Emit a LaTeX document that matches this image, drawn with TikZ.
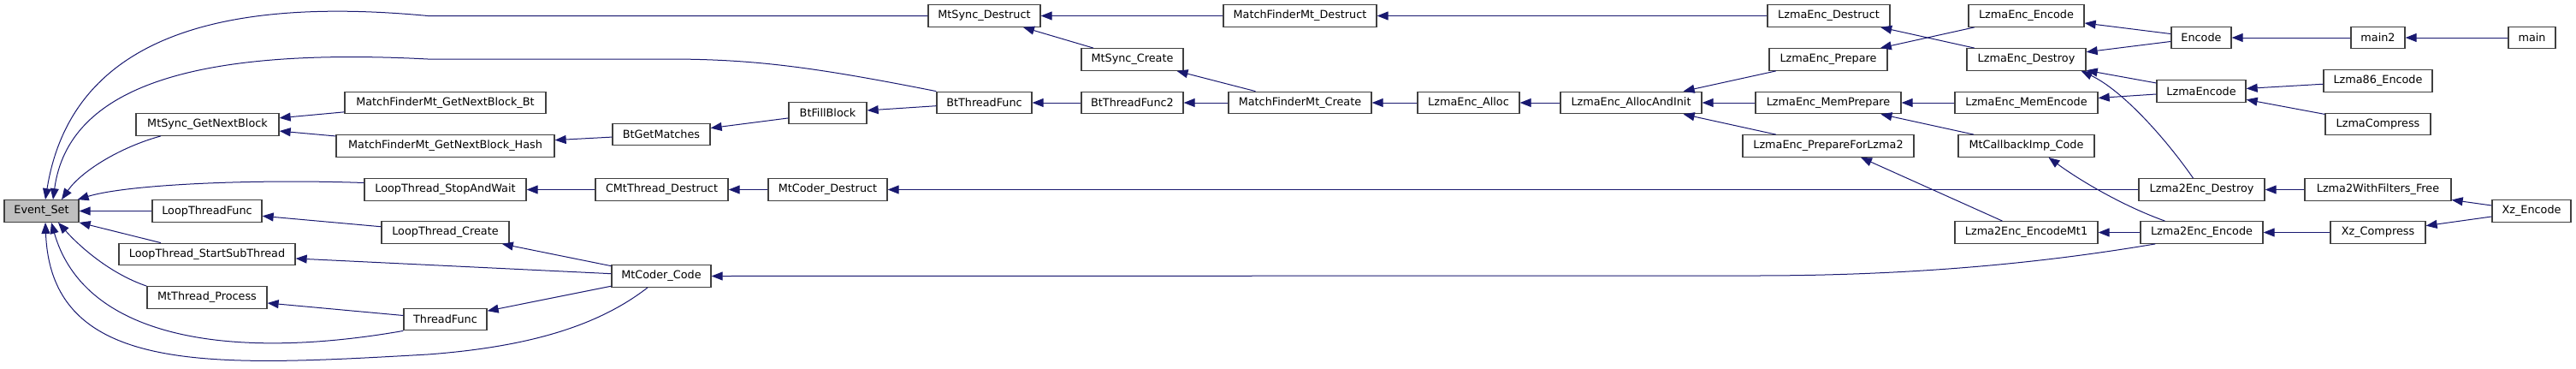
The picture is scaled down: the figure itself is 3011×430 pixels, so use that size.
\documentclass[tikz,border=0pt]{standalone}
\usepackage{fontspec}
\setmainfont{DejaVu Sans}
\usepackage{tikz}
\usetikzlibrary{
    arrows.meta, positioning, calc
}
\definecolor{edgeBlue}{HTML}{191970}
\definecolor{boxLine}{HTML}{404040}
\definecolor{boxGrey}{HTML}{BFBFBF}
\tikzset{
    fn/.style={draw=boxLine, line width=0.65pt, fill=white, inner sep=0pt,
        minimum height=12.75pt, font=\fontsize{6.4}{7.5}\selectfont},
    call/.style={draw=edgeBlue, line width=0.5pt,
        -{Triangle[length=6.5pt, width=5pt]}}
}

\begin{document}
\begin{tikzpicture}[x=0.5pt, y=-0.5pt]
    \useasboundingbox (0,0) rectangle (3011,430);

    % Column 1
    \node[fn, fill=boxGrey, minimum width=43.5pt] (EventSet) at (48.5,246.5) {Event\_Set};

    % Column 2
    \node[fn, minimum width=83.5pt] (MtSyncGetNextBlock) at (242.5,145.5) {MtSync\_GetNextBlock};
    \node[fn, minimum width=64pt] (LoopThreadFunc) at (242,246.5) {LoopThreadFunc};
    \node[fn, minimum width=103pt] (LoopThreadStartSubThread) at (242,297) {LoopThread\_StartSubThread};
    \node[fn, minimum width=70pt] (MtThreadProcess) at (242,347.5) {MtThread\_Process};

    % Column 3
    \node[fn, minimum width=117.5pt] (MfGetNextBlockBt) at (520.5,120) {MatchFinderMt\_GetNextBlock\_Bt};
    \node[fn, minimum width=127.5pt] (MfGetNextBlockHash) at (520.5,170.5) {MatchFinderMt\_GetNextBlock\_Hash};
    \node[fn, minimum width=94.5pt] (LoopThreadStopAndWait) at (520.5,221.5) {LoopThread\_StopAndWait};
    \node[fn, minimum width=74.5pt] (LoopThreadCreate) at (520.5,271.5) {LoopThread\_Create};
    \node[fn, minimum width=48.5pt] (ThreadFunc) at (520.5,373) {ThreadFunc};

    % Column 4
    \node[fn, minimum width=57pt] (BtGetMatches) at (773,157) {BtGetMatches};
    \node[fn, minimum width=77.5pt] (CMtThreadDestruct) at (773.5,221.5) {CMtThread\_Destruct};
    \node[fn, minimum width=58pt] (MtCoderCode) at (773,322.5) {MtCoder\_Code};

    % Column 5
    \node[fn, minimum width=45.5pt] (BtFillBlock) at (967.5,132) {BtFillBlock};
    \node[fn, minimum width=69.5pt] (MtCoderDestruct) at (967.5,221.5) {MtCoder\_Destruct};

    % Column 6
    \node[fn, minimum width=65.5pt] (MtSyncDestruct) at (1150.5,18.5) {MtSync\_Destruct};
    \node[fn, minimum width=55.5pt] (BtThreadFunc) at (1150.5,120) {BtThreadFunc};

    % Column 7
    \node[fn, minimum width=59.5pt] (MtSyncCreate) at (1323.5,69.5) {MtSync\_Create};
    \node[fn, minimum width=59.5pt] (BtThreadFuncTwo) at (1323.5,120) {BtThreadFunc2};

    % Column 8
    \node[fn, minimum width=89.5pt] (MfDestruct) at (1519.5,18.5) {MatchFinderMt\_Destruct};
    \node[fn, minimum width=83.5pt] (MfCreate) at (1519.5,120) {MatchFinderMt\_Create};

    % Column 9 and 10
    \node[fn, minimum width=59.5pt] (LzmaEncAlloc) at (1716.5,120) {LzmaEnc\_Alloc};
    \node[fn, minimum width=82.5pt] (LzmaEncAllocAndInit) at (1906.5,120) {LzmaEnc\_AllocAndInit};

    % Column 11
    \node[fn, minimum width=71.5pt] (LzmaEncDestruct) at (2137.5,18.5) {LzmaEnc\_Destruct};
    \node[fn, minimum width=69pt] (LzmaEncPrepare) at (2137,69.5) {LzmaEnc\_Prepare};
    \node[fn, minimum width=85pt] (LzmaEncMemPrepare) at (2137,120) {LzmaEnc\_MemPrepare};
    \node[fn, minimum width=100pt] (LzmaEncPrepareForLzmaTwo) at (2137,170.5) {LzmaEnc\_PrepareForLzma2};

    % Column 12
    \node[fn, minimum width=67.5pt] (LzmaEncEncode) at (2368.5,18.5) {LzmaEnc\_Encode};
    \node[fn, minimum width=69.5pt] (LzmaEncDestroy) at (2368.5,69.5) {LzmaEnc\_Destroy};
    \node[fn, minimum width=83.5pt] (LzmaEncMemEncode) at (2368.5,120) {LzmaEnc\_MemEncode};
    \node[fn, minimum width=79.5pt] (MtCallbackImpCode) at (2368.5,170.5) {MtCallbackImp\_Code};
    \node[fn, minimum width=83.5pt] (LzmaTwoEncEncodeMtOne) at (2368.5,271.5) {Lzma2Enc\_EncodeMt1};

    % Column 13
    \node[fn, minimum width=35pt] (Encode) at (2573,44) {Encode};
    \node[fn, minimum width=52pt] (LzmaEncode) at (2573,106.5) {LzmaEncode};
    \node[fn, minimum width=73.5pt] (LzmaTwoEncDestroy) at (2573.5,221.5) {Lzma2Enc\_Destroy};
    \node[fn, minimum width=71.5pt] (LzmaTwoEncEncode) at (2573.5,271.5) {Lzma2Enc\_Encode};

    % Column 14
    \node[fn, minimum width=31.5pt] (MainTwo) at (2779.5,44) {main2};
    \node[fn, minimum width=63.5pt] (LzmaEightySixEncode) at (2779.5,94.5) {Lzma86\_Encode};
    \node[fn, minimum width=61.5pt] (LzmaCompress) at (2779.5,145) {LzmaCompress};
    \node[fn, minimum width=85.5pt] (LzmaTwoWithFiltersFree) at (2779.5,221.5) {Lzma2WithFilters\_Free};
    \node[fn, minimum width=55.5pt] (XzCompress) at (2779.5,271.5) {Xz\_Compress};

    % Column 15
    \node[fn, minimum width=27.5pt] (Main) at (2959.5,44) {main};
    \node[fn, minimum width=46pt] (XzEncode) at (2959,246.5) {Xz\_Encode};

    % Callers of Event_Set
    \draw[call] (MtSyncDestruct.west) -- (500,18.5)
        .. controls (220,-8) and (80,65) .. ([xshift=2.25pt]EventSet.north);
    \draw[call] (BtThreadFunc.north west) .. controls (950,78) and (880,69) .. (780,69) -- (500,69)
        .. controls (230,55) and (80,100) .. ([xshift=6.75pt]EventSet.north);
    \draw[call] ([xshift=-27.25pt]MtSyncGetNextBlock.south)
        .. controls (140,172) and (95,200) .. ([xshift=11.75pt]EventSet.north);
    \draw[call] ([yshift=4pt]LoopThreadStopAndWait.west)
        .. controls (300,209) and (150,215) .. ([xshift=-1pt]EventSet.north east);
    \draw[call] (LoopThreadFunc) -- (EventSet);
    \draw[call] ([xshift=-27pt]LoopThreadStartSubThread.north) -- (EventSet.south east);
    \draw[call] (MtThreadProcess.north west)
        .. controls (130,320) and (95,290) .. ([xshift=9.75pt]EventSet.south);
    \draw[call] (ThreadFunc.south west)
        .. controls (280,420) and (100,400) .. ([xshift=5.75pt]EventSet.south);
    \draw[call] ([xshift=-8pt]MtCoderCode.south) .. controls (700,380) and (620,405) .. (500,414)
        .. controls (250,428) and (60,440) .. ([xshift=2.25pt]EventSet.south);

    % Match finder branch
    \draw[call] (MfGetNextBlockBt) -- (MtSyncGetNextBlock);
    \draw[call] (MfGetNextBlockHash) -- (MtSyncGetNextBlock);
    \draw[call] (BtGetMatches) -- (MfGetNextBlockHash);
    \draw[call] (BtFillBlock) -- (BtGetMatches);
    \draw[call] (BtThreadFunc) -- (BtFillBlock);
    \draw[call] (BtThreadFuncTwo) -- (BtThreadFunc);
    \draw[call] (MfCreate) -- (BtThreadFuncTwo);
    \draw[call] (MfCreate) -- (MtSyncCreate);
    \draw[call] (MtSyncCreate) -- (MtSyncDestruct);
    \draw[call] (MfDestruct) -- (MtSyncDestruct);
    \draw[call] (LzmaEncDestruct) -- (MfDestruct);
    \draw[call] (LzmaEncAlloc) -- (MfCreate);
    \draw[call] (LzmaEncAllocAndInit) -- (LzmaEncAlloc);

    % Thread branch
    \draw[call] (CMtThreadDestruct) -- (LoopThreadStopAndWait);
    \draw[call] (MtCoderDestruct) -- (CMtThreadDestruct);
    \draw[call] (LzmaTwoEncDestroy) -- (MtCoderDestruct);
    \draw[call] (LoopThreadCreate) -- (LoopThreadFunc);
    \draw[call] (MtCoderCode) -- (LoopThreadCreate);
    \draw[call] (MtCoderCode) -- (LoopThreadStartSubThread);
    \draw[call] (ThreadFunc) -- (MtThreadProcess);
    \draw[call] (MtCoderCode) -- (ThreadFunc);
    \draw[call] ([xshift=9pt]LzmaTwoEncEncode.south west)
        .. controls (2400,305) and (2250,322) .. (2050,322) -- (MtCoderCode.east);

    % Encoder
    \draw[call] (LzmaEncPrepare) -- (LzmaEncAllocAndInit);
    \draw[call] (LzmaEncMemPrepare) -- (LzmaEncAllocAndInit);
    \draw[call] (LzmaEncPrepareForLzmaTwo) -- (LzmaEncAllocAndInit);
    \draw[call] (LzmaEncDestroy) -- (LzmaEncDestruct);
    \draw[call] (LzmaEncEncode) -- (LzmaEncPrepare);
    \draw[call] (LzmaEncMemEncode) -- (LzmaEncMemPrepare);
    \draw[call] (MtCallbackImpCode) -- (LzmaEncMemPrepare);
    \draw[call] ([xshift=-14pt]LzmaTwoEncEncodeMtOne.north) -- ([xshift=19pt]LzmaEncPrepareForLzmaTwo.south);
    \draw[call] ([xshift=-21.5pt]LzmaTwoEncEncode.north)
        .. controls (2480,240) and (2430,210) .. ([xshift=13pt]MtCallbackImpCode.south);
    \draw[call] (LzmaTwoEncEncode) -- (LzmaTwoEncEncodeMtOne);
    \draw[call] (Encode) -- (LzmaEncEncode);
    \draw[call] (Encode) -- (LzmaEncDestroy);
    \draw[call] (LzmaEncode) -- (LzmaEncDestroy);
    \draw[call] ([xshift=-5pt]LzmaTwoEncDestroy.north)
        .. controls (2530,160) and (2480,105) .. ([xshift=-3pt]LzmaEncDestroy.south east);
    \draw[call] (LzmaEncode) -- (LzmaEncMemEncode);

    % Entry points
    \draw[call] (MainTwo) -- (Encode);
    \draw[call] (Main) -- (MainTwo);
    \draw[call] (LzmaEightySixEncode) -- (LzmaEncode);
    \draw[call] (LzmaCompress) -- (LzmaEncode);
    \draw[call] (LzmaTwoWithFiltersFree) -- (LzmaTwoEncDestroy);
    \draw[call] (XzEncode) -- (LzmaTwoWithFiltersFree);
    \draw[call] (XzCompress) -- (LzmaTwoEncEncode);
    \draw[call] (XzEncode) -- (XzCompress);
\end{tikzpicture}
\end{document}
